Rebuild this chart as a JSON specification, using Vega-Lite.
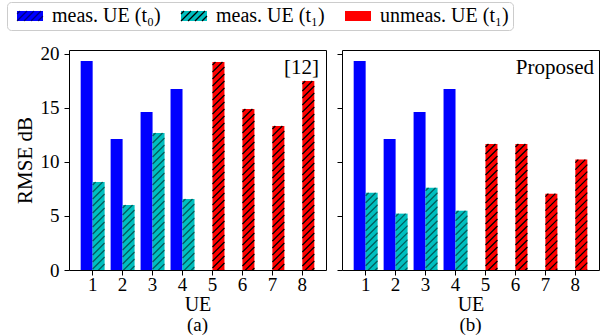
{
  "$schema": "https://vega.github.io/schema/vega-lite/v6.json",
  "padding": {"left": 6, "top": 1, "right": 5, "bottom": 0},
  "background": "white",
  "bounds": "flush",
  "spacing": 16,
  "config": {
    "font": "Liberation Serif",
    "view": {"stroke": "black", "strokeWidth": 1},
    "axis": {"grid": false, "domain": false, "tickColor": "black", "tickSize": 5, "tickWidth": 1, "labelColor": "black", "labelFont": "Liberation Serif", "labelFontSize": 19, "titleFont": "Liberation Serif", "titleFontSize": 21, "titleFontWeight": "normal", "titleColor": "black"},
    "axisX": {"labelAngle": 0, "labelPadding": 0, "titlePadding": 0, "titleFontSize": 20},
    "axisY": {"labelPadding": 5, "titlePadding": 5},
    "title": {"font": "Liberation Serif", "fontSize": 19, "fontWeight": "normal", "color": "black"}
  },
  "datasets": {
    "bars": [
      {"panel": "a", "UE": 1, "time": "t0", "series": "meas. UE (t₀)", "rmse": 19.35},
      {"panel": "a", "UE": 2, "time": "t0", "series": "meas. UE (t₀)", "rmse": 12.13},
      {"panel": "a", "UE": 3, "time": "t0", "series": "meas. UE (t₀)", "rmse": 14.63},
      {"panel": "a", "UE": 4, "time": "t0", "series": "meas. UE (t₀)", "rmse": 16.76},
      {"panel": "a", "UE": 1, "time": "t1", "series": "meas. UE (t₁)", "rmse": 8.15},
      {"panel": "a", "UE": 2, "time": "t1", "series": "meas. UE (t₁)", "rmse": 6.02},
      {"panel": "a", "UE": 3, "time": "t1", "series": "meas. UE (t₁)", "rmse": 12.69},
      {"panel": "a", "UE": 4, "time": "t1", "series": "meas. UE (t₁)", "rmse": 6.57},
      {"panel": "a", "UE": 5, "time": "t1", "series": "unmeas. UE (t₁)", "rmse": 19.26},
      {"panel": "a", "UE": 6, "time": "t1", "series": "unmeas. UE (t₁)", "rmse": 14.9},
      {"panel": "a", "UE": 7, "time": "t1", "series": "unmeas. UE (t₁)", "rmse": 13.33},
      {"panel": "a", "UE": 8, "time": "t1", "series": "unmeas. UE (t₁)", "rmse": 17.5},
      {"panel": "b", "UE": 1, "time": "t0", "series": "meas. UE (t₀)", "rmse": 19.35},
      {"panel": "b", "UE": 2, "time": "t0", "series": "meas. UE (t₀)", "rmse": 12.13},
      {"panel": "b", "UE": 3, "time": "t0", "series": "meas. UE (t₀)", "rmse": 14.63},
      {"panel": "b", "UE": 4, "time": "t0", "series": "meas. UE (t₀)", "rmse": 16.76},
      {"panel": "b", "UE": 1, "time": "t1", "series": "meas. UE (t₁)", "rmse": 7.16},
      {"panel": "b", "UE": 2, "time": "t1", "series": "meas. UE (t₁)", "rmse": 5.22},
      {"panel": "b", "UE": 3, "time": "t1", "series": "meas. UE (t₁)", "rmse": 7.62},
      {"panel": "b", "UE": 4, "time": "t1", "series": "meas. UE (t₁)", "rmse": 5.49},
      {"panel": "b", "UE": 5, "time": "t1", "series": "unmeas. UE (t₁)", "rmse": 11.67},
      {"panel": "b", "UE": 6, "time": "t1", "series": "unmeas. UE (t₁)", "rmse": 11.67},
      {"panel": "b", "UE": 7, "time": "t1", "series": "unmeas. UE (t₁)", "rmse": 7.07},
      {"panel": "b", "UE": 8, "time": "t1", "series": "unmeas. UE (t₁)", "rmse": 10.22}
    ],
    "notes": [
      {"panel": "a", "label": "[12]"},
      {"panel": "b", "label": "Proposed"}
    ]
  },
  "hconcat": [
    {
      "width": 257,
      "height": 220,
      "title": {"text": "(a)", "orient": "bottom", "offset": 2},
      "layer": [
        {
          "data": {"name": "bars"},
          "transform": [{"filter": "datum.panel === 'a'"}],
          "mark": {"type": "bar"},
          "encoding": {
            "x": {"field": "UE", "type": "ordinal", "scale": {"paddingInner": 0.2, "paddingOuter": 0.39}, "axis": {"title": "UE"}},
            "xOffset": {"field": "time", "type": "nominal", "scale": {"domain": ["t0", "t1"]}},
            "y": {"field": "rmse", "type": "quantitative", "scale": {"domain": [0, 20.37], "nice": false}, "axis": {"title": "RMSE dB", "values": [0, 5, 10, 15, 20]}},
            "color": {"field": "series", "type": "nominal", "scale": {"range": ["#0000ff", "#00bfbf", "#ff0000"]},
              "legend": {"orient": "none", "legendX": -62, "legendY": -48, "direction": "horizontal", "columns": 3, "title": null, "symbolType": "M-4,-5H22V5H-4Z", "symbolSize": 4, "symbolStrokeWidth": 0, "symbolOpacity": 1, "labelFont": "Liberation Serif", "labelFontSize": 20, "labelColor": "black", "labelOffset": 21, "labelLimit": 0, "columnPadding": 14, "padding": 4, "strokeColor": "#cccccc", "cornerRadius": 4}}
          }
        },
        {
          "data": {"name": "bars"},
          "transform": [{"filter": "datum.panel === 'a' && datum.time === 't1'"}],
          "mark": {"type": "point", "shape": "M-6,3L-3,0M-6,10L4,0M-6,17L6,5M-6,24L6,12M-6,31L6,19M-6,38L6,26M-6,45L6,33M-6,52L6,40M-6,59L6,47M-6,66L6,54M-6,73L6,61M-6,80L6,68M-6,87L6,75M-6,94L6,82M-6,101L6,89M-6,108L6,96M-6,115L6,103M-6,122L6,110M-6,129L6,117M-6,136L6,124M-6,143L6,131M-6,150L6,138M-6,157L6,145M-6,164L6,152M-6,171L6,159M-6,178L6,166M-6,185L6,173M-6,192L6,180M-6,199L6,187M-6,206L6,194M-6,213L6,201M-6,220L6,208M-6,227L6,215M-6,234L6,222", "filled": false, "clip": true, "color": "black", "strokeWidth": 1.3, "size": 4},
          "encoding": {
            "x": {"field": "UE", "type": "ordinal"},
            "xOffset": {"field": "time", "type": "nominal", "scale": {"domain": ["t0", "t1"]}},
            "y": {"field": "rmse", "type": "quantitative"},
            "opacity": {"field": "series", "type": "nominal",
              "scale": {"domain": ["meas. UE (t₀)", "meas. UE (t₁)", "unmeas. UE (t₁)"], "range": [0, 1, 1]},
              "legend": {"orient": "none", "legendX": -62, "legendY": -48, "direction": "horizontal", "columns": 3, "title": null, "symbolType": "M-4,-2L-1,-5M-4,5L6,-5M3,5L13,-5M10,5L20,-5M17,5L22,0", "symbolSize": 4, "symbolStrokeColor": "black", "symbolStrokeWidth": 1.3, "symbolFillColor": "transparent", "labelFont": "Liberation Serif", "labelFontSize": 20, "labelOpacity": 0, "labelOffset": 21, "labelLimit": 0, "columnPadding": 14, "padding": 4}}
          }
        },
        {
          "data": {"name": "notes"},
          "transform": [{"filter": "datum.panel === 'a'"}],
          "mark": {"type": "text", "align": "right", "baseline": "top", "dx": -7, "dy": 7, "fontSize": 21, "font": "Liberation Serif", "color": "black"},
          "encoding": {"text": {"field": "label"}, "x": {"value": "width"}, "y": {"datum": 20.37, "type": "quantitative"}}
        }
      ]
    },
    {
      "width": 257,
      "height": 220,
      "title": {"text": "(b)", "orient": "bottom", "offset": 2},
      "layer": [
        {
          "data": {"name": "bars"},
          "transform": [{"filter": "datum.panel === 'b'"}],
          "mark": {"type": "bar"},
          "encoding": {
            "x": {"field": "UE", "type": "ordinal", "scale": {"paddingInner": 0.2, "paddingOuter": 0.39}, "axis": {"title": "UE"}},
            "xOffset": {"field": "time", "type": "nominal", "scale": {"domain": ["t0", "t1"]}},
            "y": {"field": "rmse", "type": "quantitative", "scale": {"domain": [0, 20.37], "nice": false}, "axis": {"title": null, "labels": false, "values": [0, 5, 10, 15, 20]}},
            "color": {"field": "series", "type": "nominal", "scale": {"range": ["#0000ff", "#00bfbf", "#ff0000"]}}
          }
        },
        {
          "data": {"name": "bars"},
          "transform": [{"filter": "datum.panel === 'b' && datum.time === 't1'"}],
          "mark": {"type": "point", "shape": "M-6,3L-3,0M-6,10L4,0M-6,17L6,5M-6,24L6,12M-6,31L6,19M-6,38L6,26M-6,45L6,33M-6,52L6,40M-6,59L6,47M-6,66L6,54M-6,73L6,61M-6,80L6,68M-6,87L6,75M-6,94L6,82M-6,101L6,89M-6,108L6,96M-6,115L6,103M-6,122L6,110M-6,129L6,117M-6,136L6,124M-6,143L6,131M-6,150L6,138M-6,157L6,145M-6,164L6,152M-6,171L6,159M-6,178L6,166M-6,185L6,173M-6,192L6,180M-6,199L6,187M-6,206L6,194M-6,213L6,201M-6,220L6,208M-6,227L6,215M-6,234L6,222", "filled": false, "clip": true, "color": "black", "strokeWidth": 1.3, "size": 4},
          "encoding": {
            "x": {"field": "UE", "type": "ordinal"},
            "xOffset": {"field": "time", "type": "nominal", "scale": {"domain": ["t0", "t1"]}},
            "y": {"field": "rmse", "type": "quantitative"},
            "opacity": {"field": "series", "type": "nominal"}
          }
        },
        {
          "data": {"name": "notes"},
          "transform": [{"filter": "datum.panel === 'b'"}],
          "mark": {"type": "text", "align": "right", "baseline": "top", "dx": -5, "dy": 7, "fontSize": 21, "font": "Liberation Serif", "color": "black"},
          "encoding": {"text": {"field": "label"}, "x": {"value": "width"}, "y": {"datum": 20.37, "type": "quantitative"}}
        }
      ]
    }
  ]
}
